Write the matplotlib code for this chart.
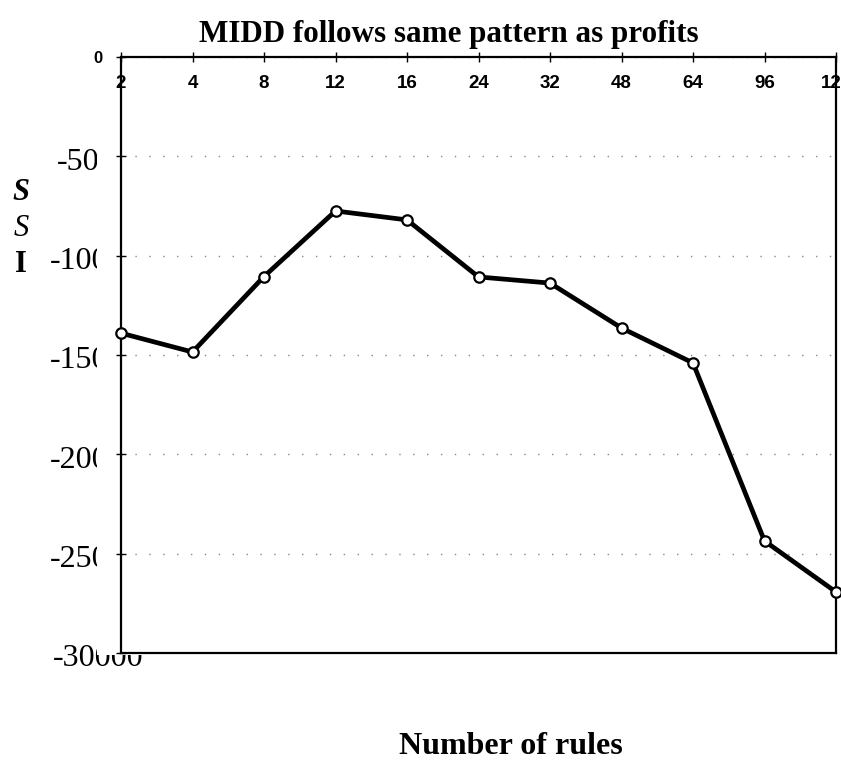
import matplotlib
matplotlib.use('Agg')
import matplotlib.pyplot as plt
from matplotlib.patches import Rectangle
from matplotlib.transforms import blended_transform_factory, offset_copy

# data
rules = ['2', '4', '8', '12', '16', '24', '32', '48', '64', '96', '128']
midd = [-13900, -14850, -11050, -7750, -8200, -11070, -11380, -13640, -15400, -24360, -26930]
ytick_vals = [0, -5000, -10000, -15000, -20000, -25000, -30000]
ytick_text = ['-5000', '-10000', '-15000', '-20000', '-25000', '-30000']

W, H = 841, 760
fig = plt.figure(figsize=(W / 100, H / 100), dpi=100)
fig.patch.set_facecolor('white')

ax = fig.add_axes([121 / W, 1 - 653 / H, 715 / W, 596 / H], zorder=2)
ax.set_facecolor('white')

x = list(range(len(rules)))
ax.plot(x, midd, color='black', lw=3.4, marker='o', ms=7.5,
        mfc='white', mec='black', mew=1.6, clip_on=False, zorder=5)

ax.set_xlim(0, len(rules) - 1)
ax.set_ylim(-30000, 0)

# x ticks sit on the top spine, labels drawn inside the box
ax.xaxis.tick_top()
ax.set_xticks(x)
ax.set_xticklabels(rules, fontfamily='Liberation Sans', fontweight='bold', fontsize=13.5)
ax.tick_params(axis='x', direction='inout', length=7, width=1, pad=-29)

ax.set_yticks(ytick_vals)
ax.set_yticklabels(['0'] + [''] * (len(ytick_vals) - 1),
                   fontfamily='Liberation Sans', fontweight='bold', fontsize=12)
ax.tick_params(axis='y', direction='inout', length=7, width=1, pad=10)
ax.grid(axis='y', color='#888888', lw=1, linestyle=(0, (1, 9)))

for s in ax.spines.values():
    s.set_linewidth(1.6)

# y labels: the scan cuts them off, so draw full text and mask the right part
ylab_tr = offset_copy(blended_transform_factory(fig.transFigure, ax.transData),
                      fig=fig, x=0, y=-6, units='dots')
for v, t in zip(ytick_vals[1:], ytick_text):
    x0 = 57 if len(t) == 5 else (53 if v == -30000 else 50)
    fig.text(x0 / W, v, t, transform=ylab_tr, ha='left', va='center',
             fontfamily='Liberation Serif', fontsize=23, zorder=0.5)
fig.add_artist(Rectangle((97 / W, 1 - 655 / H), 1, 1, transform=fig.transFigure,
                         facecolor='white', edgecolor='none', zorder=1))

# broken vertical axis title from the scan
fig.text(21 / W, 1 - 192 / H, 'S', ha='center', va='center', fontfamily='Liberation Serif',
         fontstyle='italic', fontweight='bold', fontsize=22, zorder=3)
fig.text(21 / W, 1 - 229 / H, 'S', ha='center', va='center', fontfamily='Liberation Serif',
         fontstyle='italic', fontsize=22, zorder=3)
fig.text(21 / W, 1 - 264 / H, 'I', ha='center', va='center', fontfamily='Liberation Serif',
         fontweight='bold', fontsize=22, zorder=3)

fig.text(449 / W, 1 - 42 / H, 'MIDD follows same pattern as profits', ha='center',
         va='baseline', fontfamily='Liberation Serif', fontweight='bold', fontsize=22.4, zorder=3)
fig.text(511 / W, 1 - 754 / H, 'Number of rules', ha='center', va='baseline',
         fontfamily='Liberation Serif', fontweight='bold', fontsize=23, zorder=3)

fig.savefig('out.png', dpi=100)
